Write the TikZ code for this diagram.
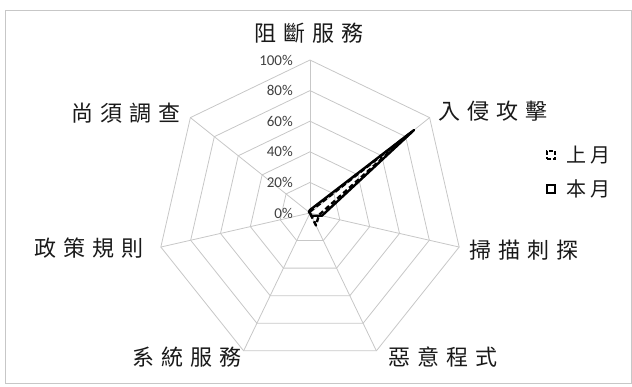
\documentclass[tikz,border=0pt]{standalone}
\usepackage{fontspec}
\setmainfont{Carlito}
\newfontfamily\cjk{Noto Sans CJK TC}
\usetikzlibrary{positioning}
\tikzset{
	frame/.style = {draw = black!22, line width = 0.8pt},
	gridline/.style = {draw = black!22, line width = 0.8pt},
	axis label/.style = {font = \cjk\fontsize{22}{22}\selectfont, text = black!90, inner sep = 0pt},
	legend label/.style = {font = \cjk\fontsize{20}{20}\selectfont, text = black!90, inner sep = 0pt},
	tick label/.style = {font = \fontsize{15}{15}\selectfont, text = black!75, anchor = east, inner sep = 0pt},
	series/.style = {draw = black, line width = 2.4pt, line join = round},
	legend mark/.style = {draw = black, line width = 2.4pt, minimum size = 8pt, inner sep = 0pt}
}
\newcommand\spaced[4]{#1\kern7pt#2\kern7pt#3\kern7pt#4}

\begin{document}
\begin{tikzpicture}[x = 1pt, y = -1pt]
	\useasboundingbox (0, 0) rectangle (632, 387);
	\draw [frame] (5, 10) rectangle (631, 383);

	\begin{scope}[shift = {(310, 213)}]
		\coordinate (O) at (0, 0);
		% rings and spokes
		\foreach\r in {1,...,5}{
			\draw [gridline] (-90:\r*30.6)
				\foreach\k in {1,...,6}{ -- (-90 + \k*360/7:\r*30.6) } -- cycle;
		}
		\foreach\k in {0,...,6}{
			\coordinate (ax\k) at (-90 + \k*360/7:153);
			\draw [gridline] (O) -- (ax\k);
		}

		% last month and this month
		\foreach\v [count = \k from 0] in {1, 85, 6, 9, 0, 0, 1}{
			\coordinate (last\k) at (-90 + \k*360/7:\v*1.53);
		}
		\foreach\v [count = \k from 0] in {2, 87, 8, 2, 0, 0, 1}{
			\coordinate (this\k) at (-90 + \k*360/7:\v*1.53);
		}
		\draw [series, dash pattern = on 5pt off 3pt]
			(last0) -- (last1) -- (last2) -- (last3) -- (last4) -- (last5) -- (last6) -- cycle;
		\draw [series]
			(this0) -- (this1) -- (this2) -- (this3) -- (this4) -- (this5) -- (this6) -- cycle;
	\end{scope}

	\foreach\p [count = \i from 0] in {0, 20, 40, 60, 80, 100}{
		\node [tick label] (t\p) at (293, 213 - \i*30.6) {\p\%};
	}

	\node [axis label] (dos)    at (309, 33)  {\spaced{阻}{斷}{服}{務}};
	\node [axis label] (intr)   at (493, 111) {\spaced{入}{侵}{攻}{擊}};
	\node [axis label] (scan)   at (524, 250) {\spaced{掃}{描}{刺}{探}};
	\node [axis label] (mal)    at (443, 357) {\spaced{惡}{意}{程}{式}};
	\node [axis label] (sys)    at (187, 357) {\spaced{系}{統}{服}{務}};
	\node [axis label] (policy) at (89, 248)  {\spaced{政}{策}{規}{則}};
	\node [axis label] (todo)   at (126, 113) {\spaced{尚}{須}{調}{查}};

	\node [legend mark, dash pattern = on 4pt off 2pt] (mLast) at (551, 155) {};
	\node [legend label, right = 10pt of mLast] (lLast) {上\kern4pt月};
	\node [legend mark] (mThis) at (551, 189) {};
	\node [legend label, right = 10pt of mThis] (lThis) {本\kern4pt月};
\end{tikzpicture}
\end{document}
